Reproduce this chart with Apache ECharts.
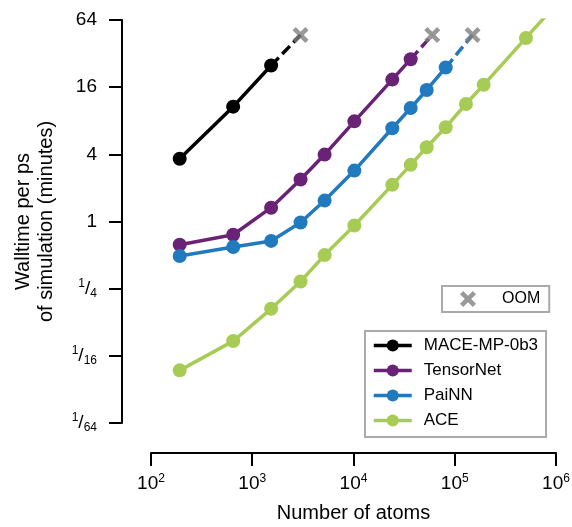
<!DOCTYPE html>
<html>
<head>
<meta charset="utf-8">
<script src="https://cdn.jsdelivr.net/npm/echarts@6/dist/echarts.min.js"></script>
<style>
  html, body { margin: 0; padding: 0; background: #fff; }
  #chart { width: 572px; height: 527px; }
</style>
</head>
<body>
<div id="chart"></div>
<script>
// number of atoms / walltime per ps (minutes)
const maceAtoms = [192, 648, 1536];
const maceTime = [3.65, 10.7, 25];
const maceOomAtoms = 3000;

const tensorNetAtoms = [192, 648, 1536, 3000, 5184, 10200, 24150, 36700];
const tensorNetTime = [0.62, 0.76, 1.33, 2.38, 3.98, 7.9, 18.7, 28.5];
const tensorNetOomAtoms = 60000;

const painnAtoms = [192, 648, 1536, 3000, 5184, 10200, 24150, 36700, 52800, 81400];
const painnTime = [0.49, 0.59, 0.67, 0.98, 1.54, 2.86, 6.85, 10.4, 15.1, 24.0];
const painnOomAtoms = 150000;

const aceAtoms = [192, 648, 1536, 3000, 5184, 10200, 24150, 36700, 52800, 81400, 129000, 193000, 505000, 1000000];
const aceTime = [0.0463, 0.0847, 0.165, 0.29, 0.5, 0.92, 2.13, 3.22, 4.63, 7.0, 11.3, 16.8, 44.2, 88];

const oomTime = 47;

const xTickLabels = ['10{sup|2}', '10{sup|3}', '10{sup|4}', '10{sup|5}', '10{sup|6}'];
const yTickLabels = ['{sup|1}/{sub|64}', '{sup|1}/{sub|16}', '{sup|1}/{sub|4}', '1', '4', '16', '64'];

const colors = {
  mace: '#000000',
  tensorNet: '#6a2276',
  painn: '#2179be',
  ace: '#a6cc55',
  oom: '#808080'
};

const font = 'Liberation Sans, Arial, Helvetica, sans-serif';
const crossPath = 'path://M2,0 L5,3 L8,0 L10,2 L7,5 L10,8 L8,10 L5,7 L2,10 L0,8 L3,5 L0,2 Z';

function pairs(xs, ys) {
  return xs.map((x, i) => [x, ys[i]]);
}

function modelSeries(name, xs, ys, color) {
  return {
    name: name,
    type: 'line',
    data: pairs(xs, ys),
    symbol: 'circle',
    symbolSize: 14,
    showAllSymbol: true,
    color: color,
    lineStyle: { width: 3.5, color: color },
    itemStyle: { color: color },
    z: 3
  };
}

function oomLink(xs, ys, oomX, color) {
  return {
    name: 'link',
    type: 'line',
    data: [[xs[xs.length - 1], ys[ys.length - 1]], [oomX, oomTime]],
    symbol: 'none',
    lineStyle: { width: 3.5, color: color, type: [11, 5] },
    silent: true,
    z: 2
  };
}

const richTick = {
  sup: { fontSize: 12, fontFamily: font, color: '#000', verticalAlign: 'top', lineHeight: 12 },
  sub: { fontSize: 12, fontFamily: font, color: '#000', verticalAlign: 'bottom', lineHeight: 12 }
};

const chart = echarts.init(document.getElementById('chart'), null, { renderer: 'canvas' });

const option = {
  animation: false,
  backgroundColor: '#fff',
  textStyle: { fontFamily: font },
  grid: { left: 151, right: 16, top: 20, bottom: 104, outerBoundsMode: 'none' },
  legend: [
    {
      data: ['MACE-MP-0b3', 'TensorNet', 'PaiNN', 'ACE'],
      orient: 'vertical',
      left: 365,
      top: 331,
      itemWidth: 38,
      itemHeight: 15,
      itemGap: 8,
      padding: [6, 8, 8, 7],
      borderColor: '#aaaaaa',
      borderWidth: 2,
      borderRadius: 0,
      selectedMode: false,
      lineStyle: { width: 3.5 },
      textStyle: { fontSize: 17, fontFamily: font, color: '#000', lineHeight: 17, padding: [0, 0, 0, 7] }
    },
    {
      data: ['OOM'],
      left: 442,
      top: 286,
      itemWidth: 16,
      itemHeight: 16,
      padding: [5, 9, 5, 18],
      borderColor: '#aaaaaa',
      borderWidth: 2,
      borderRadius: 0,
      selectedMode: false,
      textStyle: { fontSize: 16, fontFamily: font, color: '#000', padding: [0, 0, 0, 21] }
    }
  ],
  xAxis: {
    type: 'log',
    logBase: 10,
    min: 100,
    max: 1000000,
    offset: 30,
    name: 'Number of atoms',
    nameLocation: 'middle',
    nameGap: 50,
    nameTextStyle: { fontSize: 20, fontFamily: font, color: '#000' },
    axisLine: { show: true, lineStyle: { color: '#000', width: 2 } },
    axisTick: { show: true, length: 13, lineStyle: { color: '#000', width: 2 } },
    minorTick: { show: false },
    splitLine: { show: false },
    axisLabel: {
      margin: 20,
      fontSize: 19,
      fontFamily: font,
      color: '#000',
      lineHeight: 22,
      formatter: v => xTickLabels[Math.round(Math.log10(v)) - 2],
      rich: richTick
    }
  },
  yAxis: {
    type: 'log',
    logBase: 4,
    min: 1 / 64,
    max: 64,
    offset: 29,
    name: 'Walltime per ps\nof simulation (minutes)',
    nameLocation: 'middle',
    nameRotate: 90,
    nameGap: 64,
    nameTextStyle: { fontSize: 20, fontFamily: font, color: '#000', lineHeight: 23 },
    axisLine: { show: true, lineStyle: { color: '#000', width: 2 } },
    axisTick: { show: true, length: 13, lineStyle: { color: '#000', width: 2 } },
    minorTick: { show: false },
    splitLine: { show: false },
    axisLabel: {
      margin: 25,
      fontSize: 19,
      fontFamily: font,
      color: '#000',
      lineHeight: 22,
      formatter: v => yTickLabels[Math.round(Math.log(v) / Math.log(4)) + 3],
      rich: richTick
    }
  },
  series: [
    oomLink(maceAtoms, maceTime, maceOomAtoms, colors.mace),
    oomLink(tensorNetAtoms, tensorNetTime, tensorNetOomAtoms, colors.tensorNet),
    oomLink(painnAtoms, painnTime, painnOomAtoms, colors.painn),
    modelSeries('MACE-MP-0b3', maceAtoms, maceTime, colors.mace),
    modelSeries('TensorNet', tensorNetAtoms, tensorNetTime, colors.tensorNet),
    modelSeries('PaiNN', painnAtoms, painnTime, colors.painn),
    modelSeries('ACE', aceAtoms, aceTime, colors.ace),
    {
      name: 'OOM',
      type: 'scatter',
      data: [[maceOomAtoms, oomTime], [tensorNetOomAtoms, oomTime], [painnOomAtoms, oomTime]],
      symbol: crossPath,
      symbolSize: 16,
      itemStyle: { color: colors.oom },
      z: 4
    }
  ]
};

chart.setOption(option);
</script>
</body>
</html>
